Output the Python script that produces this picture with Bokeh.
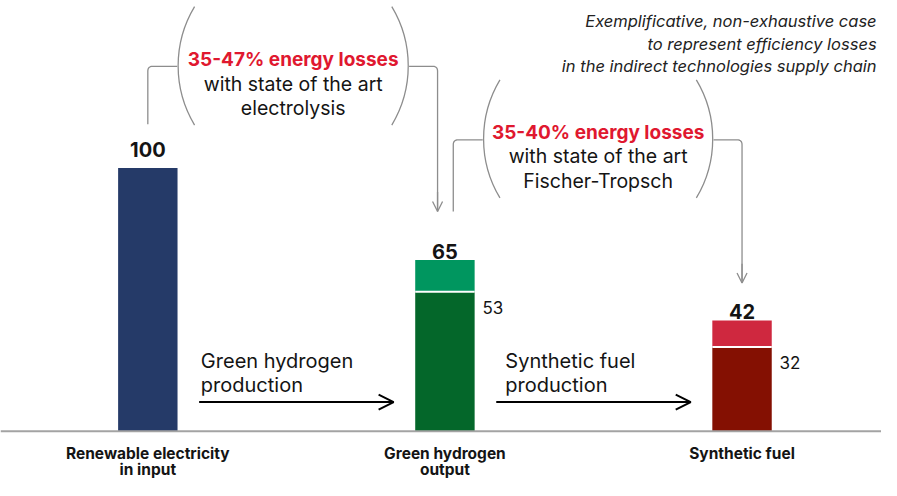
import numpy as np
from bokeh.plotting import figure
from bokeh.models import Range1d, Arrow, OpenHead
from bokeh.core.properties import value
from bokeh.embed import file_html
from bokeh.resources import INLINE

# ---------------- data ----------------
stages = ["Renewable electricity\nin input", "Green hydrogen\noutput", "Synthetic fuel"]
totals = [100, 65, 42]            # energy available at each stage
retained = [100, 53, 32]          # lower (darker) segment
lower_colors = ["#253A68", "#04672A", "#841002"]
upper_colors = [None, "#00965F", "#CF283F"]
process_labels = ["Green hydrogen\nproduction", "Synthetic fuel\nproduction"]
loss_headlines = ["35-47% energy losses", "35-40% energy losses"]
loss_details = ["with state of the art\nelectrolysis", "with state of the art\nFischer-Tropsch"]
note = "Exemplificative, non-exhaustive case\nto represent efficiency losses\nin the indirect technologies supply chain"

FONT = value("Inter")
GRAY = "#8d8d8d"
RED = "#E0182F"
INK = "#141414"

# reference-pixel helpers (layout only)
PX, X0 = 302.5, 150.0
PY, Y0 = 2.72, 445.0
def X(px): return (px - X0) / PX
def Y(py): return (Y0 - py) / PY

p = figure(width=881, height=480, x_range=Range1d(X(0), X(897)), y_range=Range1d(Y(496), Y(0)),
           output_backend="svg", toolbar_location=None, min_border=0)
p.axis.visible = False
p.grid.visible = False
p.outline_line_color = None

xs = list(range(len(stages)))
BW = 0.2

# bars
p.vbar(x=xs, width=BW, bottom=0, top=retained, fill_color=lower_colors, line_color=None)
for i in xs:
    if upper_colors[i] is not None:
        p.vbar(x=[i], width=BW, bottom=[retained[i]], top=[totals[i]], fill_color=upper_colors[i], line_color=None)
        p.segment(x0=[i - BW / 2], x1=[i + BW / 2], y0=[retained[i]], y1=[retained[i]],
                  line_color="white", line_width=2)

# baseline
p.segment(x0=[X(0)], x1=[X(897)], y0=[0], y1=[0], line_color="#a3a3a3", line_width=2)

# total labels
gaps = [19, 9, 9]
p.text(x=xs, y=[t + g / PY for t, g in zip(totals, gaps)], text=[str(t) for t in totals],
       text_align="center", text_baseline="alphabetic", text_font=FONT, text_font_style="bold",
       text_font_size="20px", text_color=INK)
# retained labels
for i in xs:
    if upper_colors[i] is not None:
        p.text(x=[i + BW / 2 + 8 / PX], y=[retained[i] - 16 / PY], text=[str(retained[i])],
               text_align="left", text_baseline="alphabetic", text_font=FONT,
               text_font_size="17px", text_color=INK)

# category labels
for i, s in enumerate(stages):
    for k, line in enumerate(s.split("\n")):
        p.text(x=[i], y=[Y(468 + 16.5 * k)], text=[line], text_align="center", text_baseline="alphabetic",
               text_font=FONT, text_font_style="bold", text_font_size="15.5px", text_color=INK)

# process arrows
proc_x = [204, 514]
for j, lab in enumerate(process_labels):
    for k, line in enumerate(lab.split("\n")):
        p.text(x=[X(proc_x[j])], y=[Y(372 + 25 * k)], text=[line], text_align="left",
               text_baseline="alphabetic", text_font=FONT, text_font_size="20px", text_color=INK)
    p.add_layout(Arrow(end=OpenHead(size=15, line_width=2, line_color="black"),
                       x_start=j + BW / 2 + 22 / PX, y_start=Y(415),
                       x_end=j + 1 - BW / 2 - 22 / PX, y_end=Y(415),
                       line_width=2, line_color="black"))

# rounded bracket paths
def rounded(pts, r=5.0, n=8):
    out = [np.array(pts[0], float)]
    for a, b, c in zip(pts, pts[1:], pts[2:]):
        a, b, c = (np.array(v, float) for v in (a, b, c))
        d1 = (a - b) / np.linalg.norm(a - b)
        d2 = (c - b) / np.linalg.norm(c - b)
        p1, p2 = b + d1 * r, b + d2 * r
        for t in np.linspace(0, 1, n):
            out.append((1 - t) ** 2 * p1 + 2 * (1 - t) * t * b + t ** 2 * p2)
    out.append(np.array(pts[-1], float))
    arr = np.array(out)
    return [X(v) for v in arr[:, 0]], [Y(v) for v in arr[:, 1]]

bubbles = [
    dict(cx=298, cy=67.5, R=118, left=[(150, 128), (150, 68), (180, 68)],
         right=[(416, 68), (445, 68), (445, 218)], text_y=61),
    dict(cx=608.5, cy=143, R=117.5, left=[(461, 218), (461, 144), (491, 144)],
         right=[(726, 144), (755, 144), (755, 292)], text_y=136),
]
half = np.deg2rad(31)
for j, b in enumerate(bubbles):
    for path in (b["left"], b["right"]):
        lx, ly = rounded(path)
        p.line(lx, ly, line_color=GRAY, line_width=1.3)
    tip = b["right"][-1]
    p.add_layout(Arrow(end=OpenHead(size=10, line_width=1.3, line_color=GRAY),
                       x_start=X(tip[0]), y_start=Y(tip[1] - 20), x_end=X(tip[0]), y_end=Y(tip[1]),
                       line_width=1.3, line_color=GRAY))
    p.arc(x=[X(b["cx"])] * 2, y=[Y(b["cy"])] * 2, radius=b["R"] * 0.975, radius_units="screen",
          start_angle=[np.pi - half, -half], end_angle=[np.pi + half, half],
          line_color=GRAY, line_width=1.3)
    p.text(x=[X(b["cx"])], y=[Y(b["text_y"])], text=[loss_headlines[j]], text_align="center",
           text_baseline="alphabetic", text_font=FONT, text_font_style="bold", text_font_size="19px",
           text_color=RED)
    for k, line in enumerate(loss_details[j].split("\n")):
        p.text(x=[X(b["cx"])], y=[Y(b["text_y"] + 25 * (k + 1))], text=[line], text_align="center",
               text_baseline="alphabetic", text_font=FONT, text_font_size="19.5px", text_color=INK)

# note
for k, line in enumerate(note.split("\n")):
    p.text(x=[X(892)], y=[Y(21 + 23.5 * k)], text=[line], text_align="right", text_baseline="alphabetic",
           text_font=FONT, text_font_style="italic", text_font_size="16.5px", text_color="#222222")

open("out.html", "w").write(file_html(p, INLINE))
